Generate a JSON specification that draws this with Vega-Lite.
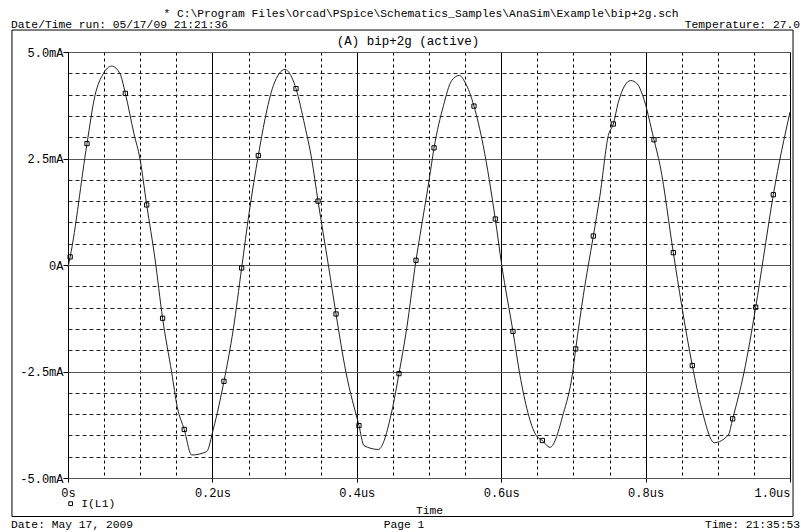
{
  "$schema": "https://vega.github.io/schema/vega-lite/v6.json",
  "width": 722,
  "height": 426,
  "autosize": "none",
  "padding": {"left": 68, "top": 52, "right": 11, "bottom": 54},
  "background": "white",
  "config": {
    "view": {"stroke": "#000", "strokeWidth": 1},
    "font": "Liberation Mono",
    "text": {"font": "Liberation Mono"}
  },
  "datasets": {
    "curve": [
      {"t": 0.0, "i": -0.05}, {"t": 0.003, "i": 0.19}, {"t": 0.0263, "i": 2.85}, {"t": 0.0374, "i": 3.98},
      {"t": 0.0489, "i": 4.49}, {"t": 0.0605, "i": 4.67}, {"t": 0.072, "i": 4.49}, {"t": 0.0794, "i": 4.03},
      {"t": 0.0914, "i": 3.08}, {"t": 0.0997, "i": 2.49}, {"t": 0.109, "i": 1.41}, {"t": 0.1205, "i": 0.145},
      {"t": 0.131, "i": -1.25}, {"t": 0.1436, "i": -2.52}, {"t": 0.1514, "i": -3.34}, {"t": 0.161, "i": -3.86},
      {"t": 0.1713, "i": -4.46}, {"t": 0.192, "i": -4.38}, {"t": 0.2013, "i": -3.85}, {"t": 0.216, "i": -2.73},
      {"t": 0.229, "i": -1.5}, {"t": 0.2405, "i": -0.07}, {"t": 0.251, "i": 1.24}, {"t": 0.2636, "i": 2.57},
      {"t": 0.2729, "i": 3.43}, {"t": 0.2844, "i": 4.21}, {"t": 0.3006, "i": 4.59}, {"t": 0.3098, "i": 4.41},
      {"t": 0.3158, "i": 4.14}, {"t": 0.328, "i": 3.27}, {"t": 0.3375, "i": 2.49}, {"t": 0.3463, "i": 1.5},
      {"t": 0.3606, "i": 0.0}, {"t": 0.3712, "i": -1.15}, {"t": 0.385, "i": -2.52}, {"t": 0.403, "i": -3.77},
      {"t": 0.41, "i": -4.24}, {"t": 0.4298, "i": -4.33}, {"t": 0.4483, "i": -3.45}, {"t": 0.4584, "i": -2.55},
      {"t": 0.469, "i": -1.5}, {"t": 0.482, "i": 0.11}, {"t": 0.4875, "i": 0.69}, {"t": 0.5004, "i": 2.02},
      {"t": 0.507, "i": 2.75}, {"t": 0.52, "i": 3.74}, {"t": 0.5314, "i": 4.33}, {"t": 0.542, "i": 4.45},
      {"t": 0.5499, "i": 4.29}, {"t": 0.5623, "i": 3.73}, {"t": 0.575, "i": 2.81}, {"t": 0.5918, "i": 1.08},
      {"t": 0.6007, "i": 0.0}, {"t": 0.6163, "i": -1.56}, {"t": 0.626, "i": -2.59}, {"t": 0.648, "i": -3.99},
      {"t": 0.657, "i": -4.12}, {"t": 0.6676, "i": -4.28}, {"t": 0.686, "i": -3.49}, {"t": 0.699, "i": -2.52},
      {"t": 0.7032, "i": -1.97}, {"t": 0.7137, "i": -0.72}, {"t": 0.7276, "i": 0.68}, {"t": 0.7368, "i": 1.63},
      {"t": 0.7484, "i": 3.04}, {"t": 0.7553, "i": 3.31}, {"t": 0.7622, "i": 3.82}, {"t": 0.7793, "i": 4.33},
      {"t": 0.7885, "i": 4.25}, {"t": 0.796, "i": 3.98}, {"t": 0.8116, "i": 2.94}, {"t": 0.82, "i": 2.34},
      {"t": 0.8384, "i": 0.29}, {"t": 0.85, "i": -0.95}, {"t": 0.8647, "i": -2.36}, {"t": 0.8777, "i": -3.38},
      {"t": 0.8952, "i": -4.17}, {"t": 0.9146, "i": -3.99}, {"t": 0.9206, "i": -3.61}, {"t": 0.9363, "i": -2.52},
      {"t": 0.9525, "i": -0.99}, {"t": 0.963, "i": 0.15}, {"t": 0.9769, "i": 1.65}, {"t": 1.0, "i": 3.59}
    ],
    "samples": [
      {"t": 0.003, "i": 0.19, "series": "I(L1)"}, {"t": 0.0263, "i": 2.85, "series": "I(L1)"},
      {"t": 0.0794, "i": 4.03, "series": "I(L1)"}, {"t": 0.109, "i": 1.41, "series": "I(L1)"},
      {"t": 0.131, "i": -1.25, "series": "I(L1)"}, {"t": 0.161, "i": -3.86, "series": "I(L1)"},
      {"t": 0.216, "i": -2.73, "series": "I(L1)"}, {"t": 0.2405, "i": -0.07, "series": "I(L1)"},
      {"t": 0.2636, "i": 2.57, "series": "I(L1)"}, {"t": 0.3158, "i": 4.14, "series": "I(L1)"},
      {"t": 0.3463, "i": 1.5, "series": "I(L1)"}, {"t": 0.3712, "i": -1.15, "series": "I(L1)"},
      {"t": 0.403, "i": -3.77, "series": "I(L1)"}, {"t": 0.4584, "i": -2.55, "series": "I(L1)"},
      {"t": 0.482, "i": 0.11, "series": "I(L1)"}, {"t": 0.507, "i": 2.75, "series": "I(L1)"},
      {"t": 0.5623, "i": 3.73, "series": "I(L1)"}, {"t": 0.5918, "i": 1.08, "series": "I(L1)"},
      {"t": 0.6163, "i": -1.56, "series": "I(L1)"}, {"t": 0.657, "i": -4.12, "series": "I(L1)"},
      {"t": 0.7032, "i": -1.97, "series": "I(L1)"}, {"t": 0.7276, "i": 0.68, "series": "I(L1)"},
      {"t": 0.7553, "i": 3.31, "series": "I(L1)"}, {"t": 0.8116, "i": 2.94, "series": "I(L1)"},
      {"t": 0.8384, "i": 0.29, "series": "I(L1)"}, {"t": 0.8647, "i": -2.36, "series": "I(L1)"},
      {"t": 0.9206, "i": -3.61, "series": "I(L1)"}, {"t": 0.9525, "i": -0.99, "series": "I(L1)"},
      {"t": 0.9769, "i": 1.65, "series": "I(L1)"}
    ],
    "frame": [{"t": -0.0776, "t2": 1.0042, "i": 5.516, "i2": -5.904}],
    "leftText": [
      {"t": -0.0789, "i": 5.563, "label": "Date/Time run: 05/17/09 21:21:36"},
      {"t": -0.0789, "i": -6.174, "label": "Date: May 17, 2009"}
    ],
    "centerText": [
      {"t": 0.4889, "i": 5.81, "label": "* C:\\Program Files\\Orcad\\PSpice\\Schematics_Samples\\AnaSim\\Example\\bip+2g.sch"},
      {"t": 0.4654, "i": -6.174, "label": "Page 1"}
    ],
    "rightText": [
      {"t": 1.0139, "i": 5.563, "label": "Temperature: 27.0"},
      {"t": 1.0139, "i": -6.174, "label": "Time: 21:35:53"}
    ],
    "plotTitle": [{"t": 0.4709, "i": 5.176, "label": "(A) bip+2g (active)"}]
  },
  "encoding": {
    "x": {
      "field": "t", "type": "quantitative",
      "scale": {"domain": [0, 1], "nice": false, "zero": false},
      "axis": {
        "title": "Time",
        "titleFont": "Liberation Mono", "titleFontSize": 11.3, "titleFontWeight": "normal", "titleColor": "#000",
        "titlePadding": 6,
        "values": [0, 0.05, 0.1, 0.15, 0.2, 0.25, 0.3, 0.35, 0.4, 0.45, 0.5, 0.55, 0.6, 0.65, 0.7, 0.75, 0.8, 0.85, 0.9, 0.95, 1.0],
        "domain": false,
        "grid": true,
        "gridColor": "#000",
        "gridOpacity": 1,
        "gridWidth": 1,
        "gridDash": {"condition": {"test": "abs(datum.value*5 - round(datum.value*5)) < 0.000001", "value": []}, "value": [3, 3]},
        "tickColor": "#000",
        "tickSize": 4,
        "tickOpacity": {"condition": {"test": "abs(datum.value*5 - round(datum.value*5)) < 0.000001", "value": 1}, "value": 0},
        "labelExpr": "abs(datum.value*5 - round(datum.value*5)) < 0.000001 ? (datum.value == 0 ? '0s' : format(datum.value, '.1f') + 'us') : ''",
        "labelFont": "Liberation Mono", "labelFontSize": 12, "labelColor": "#000",
        "labelPadding": 5,
        "labelAlign": {"condition": {"test": "datum.value == 1", "value": "right"}, "value": "center"},
        "labelOverlap": false
      }
    },
    "y": {
      "field": "i", "type": "quantitative",
      "scale": {"domain": [-5, 5], "nice": false, "zero": false},
      "axis": {
        "title": null,
        "values": [-5, -4.5, -4, -3.5, -3, -2.5, -2, -1.5, -1, -0.5, 0, 0.5, 1, 1.5, 2, 2.5, 3, 3.5, 4, 4.5, 5],
        "domain": false,
        "grid": true,
        "gridColor": {"condition": {"test": "abs(datum.value) % 2.5 < 0.000001", "value": "#555"}, "value": "#222"},
        "gridOpacity": 1,
        "gridWidth": 1,
        "gridDash": {"condition": {"test": "abs(datum.value) % 2.5 < 0.000001", "value": []}, "value": [4, 3]},
        "tickColor": "#000",
        "tickSize": 5,
        "tickOpacity": {"condition": {"test": "abs(datum.value) % 2.5 < 0.000001", "value": 1}, "value": 0},
        "labelExpr": "datum.value == 0 ? '0A' : (abs(datum.value) % 2.5 < 0.000001 ? (datum.value < 0 ? '-' : '') + format(abs(datum.value), '.1f') + 'mA' : '')",
        "labelFont": "Liberation Mono", "labelFontSize": 12, "labelColor": "#000",
        "labelPadding": 0,
        "labelBaseline": "middle",
        "labelOverlap": false
      }
    }
  },
  "layer": [
    {
      "data": {"name": "frame"},
      "mark": {"type": "rect", "filled": false, "stroke": "#000", "strokeWidth": 1},
      "encoding": {"x2": {"field": "t2"}, "y2": {"field": "i2"}}
    },
    {
      "data": {"name": "curve"},
      "mark": {"type": "line", "color": "#222", "strokeWidth": 1, "interpolate": "monotone"},
      "encoding": {}
    },
    {
      "data": {"name": "samples"},
      "mark": {"type": "point", "shape": "square", "filled": false, "size": 18, "strokeWidth": 1, "opacity": 1},
      "encoding": {
        "color": {
          "field": "series", "type": "nominal",
          "scale": {"range": ["#000"]},
          "legend": {
            "orient": "none", "legendX": -3, "legendY": 446, "title": null,
            "symbolType": "square", "symbolSize": 14, "symbolStrokeWidth": 1,
            "labelFont": "Liberation Mono", "labelFontSize": 11.3, "labelColor": "#000",
            "labelOffset": 5, "padding": 0
          }
        }
      }
    },
    {
      "data": {"name": "leftText"},
      "mark": {"type": "text", "align": "left", "baseline": "alphabetic", "fontSize": 11.3, "font": "Liberation Mono", "color": "#000"},
      "encoding": {"text": {"field": "label"}}
    },
    {
      "data": {"name": "centerText"},
      "mark": {"type": "text", "align": "center", "baseline": "alphabetic", "fontSize": 11.3, "font": "Liberation Mono", "color": "#000"},
      "encoding": {"text": {"field": "label"}}
    },
    {
      "data": {"name": "rightText"},
      "mark": {"type": "text", "align": "right", "baseline": "alphabetic", "fontSize": 11.3, "font": "Liberation Mono", "color": "#000"},
      "encoding": {"text": {"field": "label"}}
    },
    {
      "data": {"name": "plotTitle"},
      "mark": {"type": "text", "align": "center", "baseline": "alphabetic", "fontSize": 12.5, "font": "Liberation Mono", "color": "#000"},
      "encoding": {"text": {"field": "label"}}
    }
  ]
}
